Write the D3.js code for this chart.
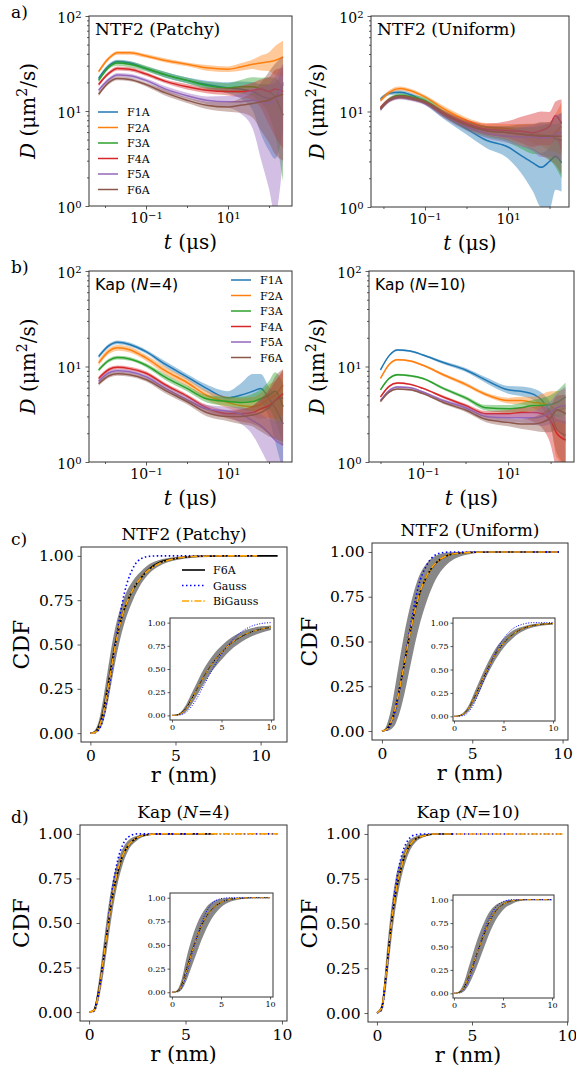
<!DOCTYPE html>
<html><head><meta charset="utf-8">
<script src="https://cdn.jsdelivr.net/npm/d3@7"></script>
<style>
body{margin:0;background:#fff}
svg{display:block}
text{font-family:"DejaVu Serif",serif;fill:#000}
</style>
</head><body><script>
const names = ["F1A","F2A","F3A","F4A","F5A","F6A"]
const colors = ["#1f77b4","#ff7f0e","#2ca02c","#d62728","#9467bd","#8c564b"]

// lag time grids (µs)
const tPatchy  = [0.007,0.0125,0.02,0.04,0.1,0.3,1,3,10,20,40,63,100,140,220]
const tUniform = [0.0085,0.014,0.025,0.045,0.1,0.3,1,3,10,20,40,63,100,140,195]
const tKap4    = [0.007,0.0125,0.02,0.04,0.1,0.3,1,3,10,20,40,63,100,140,220]
const tKap10   = [0.01,0.016,0.025,0.05,0.1,0.3,1,3,10,20,40,63,100,140,225]

// D (µm²/s), one row per F1A..F6A
const dPatchy = [
  [22,30,33,32,28,24,21,19,17.5,17,16,14.5,13.5,14,19],
  [26,36,41,41,38,34,31,28.5,27.5,29,31,32,33,34,37],
  [21,29,32,31,28,24,21,18.5,17.5,18,18,17,16,14,9],
  [19,25,28,27.5,24.5,20.5,18,16.5,16,16,16.5,17,16,17,16],
  [16.5,21.5,24,23.5,21,17,14.5,13,12.5,12.5,13,12.5,12,13,20],
  [15,20,22,21.5,19,15.5,13,11.5,11,11.5,12,12.5,13,14,15]]
// band widths below / above the mean, in decades
const loPatchy = [
  [.02,.02,.02,.02,.02,.03,.03,.04,.06,.1,.2,.4,.55,.65,.5],
  [.02,.02,.02,.02,.02,.02,.02,.03,.03,.04,.05,.08,.1,.15,.2],
  [.02,.02,.03,.03,.03,.03,.03,.04,.05,.07,.1,.15,.25,.4,.7],
  [.02,.02,.02,.02,.02,.02,.03,.03,.04,.06,.1,.2,.35,.5,.6],
  [.02,.02,.02,.02,.02,.03,.03,.04,.06,.12,.3,.6,.9,1.2,.8],
  [.02,.02,.02,.02,.02,.03,.03,.04,.05,.08,.15,.3,.45,.6,.7]]
const hiPatchy = [
  [.02,.02,.02,.02,.02,.03,.03,.04,.06,.08,.1,.12,.15,.15,.2],
  [.02,.02,.02,.02,.02,.02,.02,.03,.03,.04,.05,.08,.1,.15,.17],
  [.02,.02,.03,.03,.03,.03,.03,.04,.05,.07,.1,.12,.15,.2,.3],
  [.02,.02,.02,.02,.02,.02,.03,.03,.04,.06,.08,.1,.15,.2,.25],
  [.02,.02,.02,.02,.02,.03,.03,.04,.06,.08,.12,.15,.2,.25,.2],
  [.02,.02,.02,.02,.02,.03,.03,.04,.05,.07,.12,.2,.3,.35,.4]]

const dUniform = [
  [13.5,15.5,15.9,15,12.6,9,6.6,5,4.25,3.5,2.9,2.6,3.0,3.4,2.9],
  [13,16,17.4,16.5,14.2,10.5,8.1,6.9,6.6,6.3,5.9,5.7,5.5,6,7],
  [10.8,13.5,14.8,14.3,13,9.5,7.2,6.3,6,5.8,5.7,5.6,5.6,5.2,5],
  [11,13.3,14.2,13.8,12.5,9.5,7.5,6.5,6.3,6.2,6,6.3,7,9,7.5],
  [10.5,13,14,13.5,12.2,9,6.9,5.9,5.5,5.4,5.4,5.3,5.3,5.8,6],
  [10.6,13.2,14.2,13.7,12.4,9.2,7.2,6.3,6,5.8,5.6,5.5,5.5,5.5,5.5]]
const loUniform = [
  [.02,.02,.02,.02,.03,.04,.06,.08,.12,.18,.3,.42,.5,.35,.3],
  [.02,.02,.02,.02,.02,.03,.03,.04,.05,.07,.1,.12,.15,.2,.3],
  [.02,.02,.02,.02,.03,.04,.05,.07,.1,.15,.2,.2,.25,.3,.4],
  [.02,.02,.02,.02,.02,.03,.04,.05,.08,.12,.15,.15,.2,.25,.3],
  [.02,.02,.02,.02,.02,.03,.04,.05,.07,.1,.15,.2,.2,.25,.3],
  [.02,.02,.02,.02,.02,.03,.04,.05,.08,.12,.15,.2,.25,.3,.4]]
const hiUniform = [
  [.02,.02,.02,.02,.03,.04,.05,.06,.08,.1,.15,.15,.15,.2,.25],
  [.02,.02,.02,.02,.02,.03,.03,.04,.05,.07,.1,.12,.15,.2,.25],
  [.02,.02,.02,.02,.03,.03,.04,.05,.06,.07,.08,.1,.12,.15,.2],
  [.02,.02,.02,.02,.02,.03,.04,.06,.1,.15,.2,.2,.15,.15,.25],
  [.02,.02,.02,.02,.02,.03,.04,.05,.07,.1,.12,.15,.15,.2,.2],
  [.02,.02,.02,.02,.02,.03,.04,.05,.07,.1,.12,.15,.15,.2,.25]]

const dKap4 = [
  [12.7,16.5,17.9,17,14.3,10.5,7.8,5.9,4.7,5.0,5.5,5.9,4.6,3.7,2.5],
  [10.9,14.5,15.7,15,12.3,9,6.8,5,4.2,3.9,3.8,4.0,4.6,5.0,6.4],
  [9.2,11.6,12.4,12,10.3,7.7,5.9,4.6,4.3,4.2,4.3,4.6,5.0,5.5,3.8],
  [7.5,9.3,9.8,9.5,8.5,6.4,4.9,3.7,3.2,3.2,3.3,3.6,3.9,4.4,5.2],
  [7.0,8.6,9.0,8.8,7.8,5.9,4.5,3.6,3.4,3.2,2.7,2.4,2.0,1.7,1.5],
  [6.6,8.0,8.4,8.2,7.3,5.6,4.3,3.3,3.0,3.0,3.1,3.3,3.7,4.4,4.7]]
const loKap4 = [
  [.02,.02,.02,.02,.02,.03,.03,.04,.05,.07,.1,.15,.2,.35,.5],
  [.03,.03,.03,.03,.03,.04,.04,.05,.06,.08,.1,.15,.2,.25,.3],
  [.02,.02,.02,.02,.02,.03,.03,.04,.05,.07,.1,.12,.15,.3,.4],
  [.02,.02,.02,.02,.02,.02,.02,.03,.05,.08,.12,.2,.3,.4,.5],
  [.02,.02,.02,.02,.02,.03,.03,.04,.06,.1,.15,.25,.35,.45,.5],
  [.02,.02,.02,.02,.02,.03,.03,.04,.05,.08,.12,.2,.3,.4,.5]]
const hiKap4 = [
  [.02,.02,.02,.02,.02,.03,.03,.04,.07,.12,.18,.15,.12,.15,.2],
  [.03,.03,.03,.03,.03,.04,.04,.05,.06,.08,.1,.12,.15,.15,.15],
  [.02,.02,.02,.02,.02,.03,.03,.04,.05,.06,.08,.1,.15,.2,.25],
  [.02,.02,.02,.02,.02,.02,.02,.03,.04,.05,.07,.1,.15,.2,.25],
  [.02,.02,.02,.02,.02,.03,.03,.04,.05,.07,.1,.12,.15,.2,.25],
  [.02,.02,.02,.02,.02,.03,.03,.04,.05,.07,.1,.15,.2,.25,.3]]

const dKap10 = [
  [9.2,13,14.9,14.5,13.2,11,9.2,7.2,5.7,5.5,5.1,4.4,3.3,2.2,1.9],
  [7.5,10.5,11.8,11.4,10.3,8.2,6.5,5.1,4.4,4.4,4.2,4.1,3.9,3.5,3.7],
  [5.7,7.5,8.2,8.0,7.5,5.9,4.7,3.7,3.6,3.7,3.9,3.9,4.0,4.2,4.8],
  [4.8,6.2,6.7,6.5,5.9,4.8,3.9,3.2,3.2,3.3,3.3,3.2,2.7,2.0,1.7],
  [4.4,5.6,6.1,6.0,5.4,4.4,3.7,3.0,2.9,2.9,2.9,3.0,3.3,3.7,3.9],
  [4.3,5.4,5.8,5.7,5.2,4.2,3.5,2.8,2.6,2.5,2.5,2.6,2.9,3.5,3.2]]
const loKap10 = [
  [.01,.01,.01,.01,.01,.015,.02,.03,.04,.05,.06,.08,.15,.25,.3],
  [.01,.01,.01,.01,.01,.015,.02,.02,.03,.04,.06,.1,.2,.5,.6],
  [.01,.01,.01,.01,.01,.015,.02,.03,.04,.05,.06,.08,.1,.15,.2],
  [.01,.01,.01,.01,.01,.015,.02,.03,.04,.06,.1,.15,.25,.4,.5],
  [.01,.01,.01,.01,.01,.015,.02,.03,.04,.05,.07,.1,.12,.15,.2],
  [.01,.01,.01,.01,.01,.015,.02,.03,.04,.05,.07,.1,.15,.2,.3]]
const hiKap10 = [
  [.01,.01,.01,.01,.01,.015,.02,.03,.04,.05,.06,.08,.1,.15,.2],
  [.01,.01,.01,.01,.01,.015,.02,.02,.03,.04,.06,.1,.15,.2,.2],
  [.01,.01,.01,.01,.01,.015,.02,.03,.04,.05,.06,.08,.1,.12,.15],
  [.01,.01,.01,.01,.01,.015,.02,.03,.04,.05,.06,.08,.1,.15,.2],
  [.01,.01,.01,.01,.01,.015,.02,.03,.04,.05,.07,.1,.12,.15,.2],
  [.01,.01,.01,.01,.01,.015,.02,.03,.04,.05,.07,.1,.12,.15,.2]]

const dTicks = [1,10,100]
const dMinor = [2,3,4,5,6,7,8,9,20,30,40,50,60,70,80,90]
const tTicks = [0.1,10]
const tMinor = [0.01,1,100]

// CDF of r (nm)
const cdfTicks = [0,0.25,0.5,0.75,1]
const rTicks = [0,5,10]
const rInset = [0,0.5,1,1.5,2,2.5,3,3.5,4,5,6,7,8,9,10]

const rPatchyF6A   = [0,0.25,0.5,0.75,1,1.25,1.5,1.75,2,2.5,3,3.5,4,5,6,8,11]
const cdfPatchyF6A = [0,0.005,0.04,0.12,0.25,0.39,0.52,0.62,0.70,0.81,0.88,0.93,0.96,0.985,0.996,1,1]
const cdfPatchyLo  = [0,0,0.015,0.06,0.16,0.29,0.42,0.53,0.62,0.75,0.845,0.905,0.94,0.975,0.99,1,1]
const cdfPatchyHi  = [0,0.015,0.07,0.19,0.34,0.49,0.61,0.7,0.77,0.86,0.915,0.955,0.975,0.993,1,1,1]
const rPatchyFit   = [0,0.25,0.5,0.75,1,1.25,1.5,1.75,2,2.5,3,3.5,4,5,6,8,9.8]
const cdfPatchyGauss   = [0,0.002,0.02,0.08,0.2,0.35,0.52,0.67,0.79,0.93,0.985,0.998,1,1,1,1,1]
const cdfPatchyBiGauss = [0,0.004,0.035,0.11,0.24,0.38,0.51,0.62,0.70,0.81,0.88,0.925,0.955,0.985,0.996,1,1]
const insPatchyF6A     = [0,0.005,0.03,0.09,0.18,0.28,0.38,0.47,0.55,0.68,0.78,0.85,0.9,0.93,0.95]
const insPatchyLo      = [0,0,0.01,0.05,0.12,0.21,0.3,0.39,0.47,0.6,0.71,0.79,0.85,0.89,0.92]
const insPatchyHi      = [0,0.01,0.05,0.13,0.24,0.35,0.46,0.55,0.63,0.75,0.84,0.9,0.94,0.96,0.97]
const insPatchyGauss   = [0,0.002,0.01,0.04,0.1,0.18,0.28,0.38,0.48,0.66,0.8,0.9,0.96,0.99,1]
const insPatchyBiGauss = [0,0.004,0.025,0.085,0.175,0.28,0.38,0.47,0.55,0.68,0.78,0.855,0.9,0.93,0.95]

const rUniformF6A   = [0,0.25,0.5,0.75,1,1.25,1.5,1.75,2,2.5,3,3.5,4,5,6,8,9.8]
const cdfUniformF6A = [0,0.01,0.05,0.13,0.25,0.38,0.52,0.64,0.74,0.87,0.94,0.975,0.99,0.998,1,1,1]
const cdfUniformLo  = [0,0,0.01,0.04,0.11,0.21,0.33,0.45,0.56,0.73,0.85,0.92,0.96,0.99,1,1,1]
const cdfUniformHi  = [0,0.03,0.12,0.26,0.41,0.55,0.67,0.77,0.85,0.94,0.98,0.995,1,1,1,1,1]
const rUniformFit   = [0,0.25,0.5,0.75,1,1.25,1.5,1.75,2,2.5,3,3.5,4,5,6,8,9.8]
const cdfUniformGauss   = [0,0.005,0.04,0.12,0.25,0.39,0.54,0.68,0.8,0.93,0.985,0.998,1,1,1,1,1]
const cdfUniformBiGauss = [0,0.008,0.05,0.13,0.25,0.38,0.52,0.64,0.74,0.87,0.94,0.975,0.99,0.998,1,1,1]
const insUniformF6A     = [0,0.005,0.03,0.09,0.19,0.3,0.42,0.53,0.63,0.78,0.88,0.94,0.97,0.985,0.99]
const insUniformLo      = [0,0,0.015,0.06,0.14,0.24,0.36,0.47,0.57,0.73,0.84,0.91,0.95,0.97,0.98]
const insUniformHi      = [0,0.01,0.045,0.12,0.24,0.36,0.48,0.59,0.69,0.83,0.92,0.96,0.985,0.995,1]
const insUniformGauss   = [0,0.002,0.01,0.05,0.13,0.25,0.38,0.51,0.64,0.83,0.94,0.985,1,1,1]
const insUniformBiGauss = [0,0.005,0.03,0.09,0.19,0.3,0.42,0.53,0.63,0.78,0.88,0.94,0.97,0.985,0.99]

const rKap4F6A   = [0,0.25,0.5,0.75,1,1.25,1.5,1.75,2,2.5,3,3.5,4,5,6.5]
const cdfKap4F6A = [0,0.01,0.12,0.3,0.5,0.67,0.79,0.88,0.93,0.98,0.995,1,1,1,1]
const cdfKap4Lo  = [0,0,0.07,0.22,0.41,0.59,0.73,0.83,0.9,0.965,0.99,1,1,1,1]
const cdfKap4Hi  = [0,0.02,0.17,0.38,0.59,0.75,0.85,0.92,0.96,0.99,1,1,1,1,1]
const rKap4Fit   = [0,0.25,0.5,0.75,1,1.25,1.5,1.75,2,2.5,3,3.5,4,5,6,8,9.8]
const cdfKap4Gauss   = [0,0.005,0.1,0.3,0.52,0.72,0.86,0.94,0.98,1,1,1,1,1,1,1,1]
const cdfKap4BiGauss = [0,0.01,0.11,0.3,0.5,0.67,0.8,0.88,0.93,0.98,0.995,1,1,1,1,1,1]
const insKap4F6A     = [0,0.01,0.08,0.25,0.42,0.57,0.7,0.8,0.87,0.95,0.985,0.995,1,1,1]
const insKap4Lo      = [0,0,0.03,0.13,0.27,0.41,0.55,0.67,0.77,0.9,0.96,0.985,0.995,1,1]
const insKap4Hi      = [0,0.02,0.14,0.37,0.56,0.71,0.82,0.9,0.95,0.99,1,1,1,1,1]
const insKap4Gauss   = [0,0.005,0.05,0.2,0.39,0.57,0.73,0.85,0.93,0.99,1,1,1,1,1]
const insKap4BiGauss = [0,0.01,0.075,0.24,0.41,0.57,0.7,0.8,0.87,0.95,0.985,0.995,1,1,1]

const rKap10F6A   = [0,0.25,0.5,0.75,1,1.25,1.5,1.75,2,2.5,3,4]
const cdfKap10F6A = [0,0.03,0.24,0.49,0.68,0.8,0.89,0.94,0.97,0.99,1,1]
const cdfKap10Lo  = [0,0.01,0.16,0.4,0.6,0.74,0.84,0.91,0.95,0.985,1,1]
const cdfKap10Hi  = [0,0.05,0.32,0.58,0.76,0.86,0.93,0.97,0.985,1,1,1]
const rKap10Fit   = [0,0.25,0.5,0.75,1,1.25,1.5,1.75,2,2.5,3,4,5,6,8,9.8]
const cdfKap10Gauss   = [0,0.02,0.22,0.5,0.72,0.86,0.94,0.98,0.995,1,1,1,1,1,1,1]
const cdfKap10BiGauss = [0,0.03,0.24,0.49,0.68,0.8,0.89,0.94,0.97,0.99,1,1,1,1,1,1]
const insKap10F6A     = [0,0.01,0.06,0.18,0.32,0.47,0.61,0.74,0.84,0.95,0.99,1,1,1,1]
const insKap10Lo      = [0,0,0.02,0.09,0.2,0.33,0.47,0.61,0.73,0.89,0.96,0.99,1,1,1]
const insKap10Hi      = [0,0.02,0.11,0.28,0.45,0.61,0.74,0.85,0.92,0.98,1,1,1,1,1]
const insKap10Gauss   = [0,0.005,0.04,0.14,0.3,0.47,0.64,0.78,0.88,0.98,1,1,1,1,1]
const insKap10BiGauss = [0,0.01,0.06,0.18,0.32,0.47,0.61,0.74,0.84,0.95,0.99,1,1,1,1]

const svg = d3.select("body").append("svg").attr("width",576).attr("height",1074)
let clipN = 0
const ink = "#333"

function clip(x0,y0,x1,y1){
  const id = "c"+(clipN++)
  svg.append("clipPath").attr("id",id).append("rect")
    .attr("x",x0).attr("y",y0).attr("width",x1-x0).attr("height",y1-y0)
  return svg.append("g").attr("clip-path",`url(#${id})`)
}

function axis(gen, tx, ty, fs){
  const a = svg.append("g").attr("transform",`translate(${tx},${ty})`).call(gen)
  a.attr("font-family",null).attr("font-size",null)
  a.select(".domain").remove()
  a.selectAll(".tick line").attr("stroke",ink).attr("stroke-width",0.8)
  a.selectAll(".tick text").style("font-size",fs+"px").attr("fill","#000")
  return a
}

function frame(x0,y0,x1,y1){
  svg.append("rect").attr("x",x0).attr("y",y0).attr("width",x1-x0).attr("height",y1-y0)
    .attr("fill","none").attr("stroke",ink).attr("stroke-width",1)
}

function sup(sel){
  sel.each(function(d){
    const e = Math.round(Math.log10(d))
    const t = d3.select(this).text("10")
    t.append("tspan").attr("dy","-0.45em").style("font-size","10px").text(e<0 ? "\u2212"+(-e) : e)
  })
}

function drawD(o){
  const x = d3.scaleLog().domain(o.tdom).range([o.x0,o.x1])
  const y = d3.scaleLog().domain([1,100]).range([o.y1,o.y0])
  const g = clip(o.x0,o.y0,o.x1,o.y1)
  o.d.forEach((s,i)=>{
    const pts = o.t.map((t,j)=>({t, v:s[j], lo:s[j]/Math.pow(10,o.lo[i][j]), hi:s[j]*Math.pow(10,o.hi[i][j])}))
    g.append("path").datum(pts)
      .attr("d", d3.area().x(p=>x(p.t)).y0(p=>y(Math.max(p.lo,0.05))).y1(p=>y(p.hi)).curve(d3.curveMonotoneX))
      .attr("fill",colors[i]).attr("fill-opacity",0.42)
    g.append("path").datum(pts)
      .attr("d", d3.line().x(p=>x(p.t)).y(p=>y(p.v)).curve(d3.curveMonotoneX))
      .attr("fill","none").attr("stroke",colors[i]).attr("stroke-width",1.5)
  })
  axis(d3.axisBottom(x).tickValues(tMinor).tickSize(2).tickFormat(""),0,o.y1,14)
  axis(d3.axisLeft(y).tickValues(dMinor).tickSize(2).tickFormat(""),o.x0,0,14)
  const bx = axis(d3.axisBottom(x).tickValues(tTicks).tickSize(3.5).tickPadding(4),0,o.y1,14)
  sup(bx.selectAll(".tick text"))
  const ly = axis(d3.axisLeft(y).tickValues(dTicks).tickSize(3.5).tickPadding(4),o.x0,0,14)
  sup(ly.selectAll(".tick text"))
  ly.selectAll(".tick text").attr("dy","0.45em")
  frame(o.x0,o.y0,o.x1,o.y1)

  const yl = svg.append("text").attr("transform",`translate(${o.ylx},${(o.y0+o.y1)/2}) rotate(-90)`)
    .attr("text-anchor","middle").style("font-size","20px")
  yl.append("tspan").style("font-style","italic").text("D")
  yl.append("tspan").text(" (\u03bcm")
  yl.append("tspan").attr("dy",-8).style("font-size","14px").text("2")
  yl.append("tspan").attr("dy",8).text("/s)")
  const xl = svg.append("text").attr("x",(o.x0+o.x1)/2).attr("y",o.y1+43)
    .attr("text-anchor","middle").style("font-size","20px")
  xl.append("tspan").style("font-style","italic").text("t")
  xl.append("tspan").text(" (\u03bcs)")

  const tt = svg.append("text").attr("x",o.x0+6).attr("y",o.y0+19).style("font-size",o.tfs+"px")
    .style("font-family",o.sans ? "'DejaVu Sans',sans-serif" : null)
  o.title.forEach(p=>tt.append("tspan").style("font-style",p[1]?"italic":null).text(p[0]))

  if(o.leg){
    names.forEach((n,i)=>{
      const ry = o.leg.y + i*15.5
      svg.append("line").attr("x1",o.leg.x).attr("x2",o.leg.x+20).attr("y1",ry).attr("y2",ry)
        .attr("stroke",colors[i]).attr("stroke-width",1.5)
      svg.append("text").attr("x",o.leg.x+29).attr("y",ry+4).style("font-size","11px").text(n)
    })
  }
}

function cdfLines(g,x,y,o,sw){
  const pts = (r,v)=>r.map((rr,j)=>[rr,v[j]])
  g.append("path").datum(o.r.map((rr,j)=>[rr,o.lo[j],o.hi[j]]))
    .attr("d", d3.area().x(p=>x(p[0])).y0(p=>y(p[1])).y1(p=>y(p[2])).curve(d3.curveMonotoneX))
    .attr("fill","#7a7a7a").attr("fill-opacity",0.9)
  const ln = d3.line().x(p=>x(p[0])).y(p=>y(p[1])).curve(d3.curveMonotoneX)
  g.append("path").datum(pts(o.r,o.f6a)).attr("d",ln).attr("fill","none").attr("stroke","#000").attr("stroke-width",sw)
  g.append("path").datum(pts(o.rf,o.gauss)).attr("d",ln).attr("fill","none").attr("stroke","blue")
    .attr("stroke-width",sw).attr("stroke-dasharray",sw>1.2?"1.5,2.5":"1,1.6")
  g.append("path").datum(pts(o.rf,o.bi)).attr("d",ln).attr("fill","none").attr("stroke","orange")
    .attr("stroke-width",sw).attr("stroke-dasharray",sw>1.2?"7,2,1.4,2":"4.5,1.3,1,1.3")
}

function drawCDF(o){
  const x = d3.scaleLinear().domain(o.xdom).range([o.x0,o.x1])
  const y = d3.scaleLinear().domain([-0.05,1.05]).range([o.y1,o.y0])
  cdfLines(svg.append("g"),x,y,o,1.6)
  axis(d3.axisBottom(x).tickValues(rTicks).tickSize(3.5).tickPadding(4),0,o.y1,15.5)
  axis(d3.axisLeft(y).tickValues(cdfTicks).tickSize(3.5).tickPadding(4).tickFormat(d3.format(".2f")),o.x0,0,15.5)
  frame(o.x0,o.y0,o.x1,o.y1)
  svg.append("text").attr("transform",`translate(${o.ylx},${(o.y0+o.y1)/2}) rotate(-90)`)
    .attr("text-anchor","middle").style("font-size","22px").text("CDF")
  svg.append("text").attr("x",(o.x0+o.x1)/2).attr("y",o.y1+40).attr("text-anchor","middle")
    .style("font-size","21px").text("r (nm)")
  const tt = svg.append("text").attr("x",(o.x0+o.x1)/2).attr("y",o.y0-7).attr("text-anchor","middle").style("font-size","17px")
  o.title.forEach(p=>tt.append("tspan").style("font-style",p[1]?"italic":null).text(p[0]))

  const n = o.ins
  const xi = d3.scaleLinear().domain(n.xdom).range([n.x0,n.x1])
  const yi = d3.scaleLinear().domain([-0.05,1.05]).range([n.y1,n.y0])
  svg.append("rect").attr("x",n.x0).attr("y",n.y0).attr("width",n.x1-n.x0).attr("height",n.y1-n.y0).attr("fill","#fff")
  cdfLines(clip(n.x0,n.y0,n.x1,n.y1),xi,yi,{r:rInset,f6a:n.f6a,lo:n.lo,hi:n.hi,rf:rInset,gauss:n.gauss,bi:n.bi},1)
  axis(d3.axisBottom(xi).tickValues(rTicks).tickSize(2.5).tickPadding(2),0,n.y1,8)
  axis(d3.axisLeft(yi).tickValues(cdfTicks).tickSize(2.5).tickPadding(2).tickFormat(d3.format(".2f")),n.x0,0,8)
  frame(n.x0,n.y0,n.x1,n.y1)
}

// panels a), b)
drawD({t:tPatchy,d:dPatchy,lo:loPatchy,hi:hiPatchy,tdom:[Math.pow(10,-2.39),Math.pow(10,2.56)],
  x0:89,x1:292,y0:16,y1:206,ylx:35,title:[["NTF2 (Patchy)"]],tfs:17,leg:{x:98,y:112}})
drawD({t:tUniform,d:dUniform,lo:loUniform,hi:hiUniform,tdom:[Math.pow(10,-2.3),Math.pow(10,2.47)],
  x0:371,x1:569,y0:16,y1:207,ylx:324,title:[["NTF2 (Uniform)"]],tfs:17})
drawD({t:tKap4,d:dKap4,lo:loKap4,hi:hiKap4,tdom:[Math.pow(10,-2.39),Math.pow(10,2.56)],
  x0:89,x1:292,y0:271,y1:462,ylx:35,title:[["Kap ("],["N",1],["=4)"]],tfs:16,sans:1,leg:{x:231,y:280}})
drawD({t:tKap10,d:dKap10,lo:loKap10,hi:hiKap10,tdom:[Math.pow(10,-2.27),Math.pow(10,2.55)],
  x0:369,x1:574,y0:271,y1:462,ylx:324,title:[["Kap ("],["N",1],["=10)"]],tfs:15.5,sans:1})

// panels c), d)
drawCDF({r:rPatchyF6A,f6a:cdfPatchyF6A,lo:cdfPatchyLo,hi:cdfPatchyHi,rf:rPatchyFit,gauss:cdfPatchyGauss,bi:cdfPatchyBiGauss,
  xdom:[-0.55,11.55],x0:81,x1:287,y0:547,y1:742,ylx:29,title:[["NTF2 (Patchy)"]],
  ins:{f6a:insPatchyF6A,lo:insPatchyLo,hi:insPatchyHi,gauss:insPatchyGauss,bi:insPatchyBiGauss,xdom:[-0.2,10.3],x0:170,x1:274,y0:618,y1:720}})
drawCDF({r:rUniformF6A,f6a:cdfUniformF6A,lo:cdfUniformLo,hi:cdfUniformHi,rf:rUniformFit,gauss:cdfUniformGauss,bi:cdfUniformBiGauss,
  xdom:[-0.55,10.3],x0:372,x1:568,y0:543,y1:740,ylx:317,title:[["NTF2 (Uniform)"]],
  ins:{f6a:insUniformF6A,lo:insUniformLo,hi:insUniformHi,gauss:insUniformGauss,bi:insUniformBiGauss,xdom:[-0.1,10.2],x0:453,x1:555,y0:618,y1:721}})
drawCDF({r:rKap4F6A,f6a:cdfKap4F6A,lo:cdfKap4Lo,hi:cdfKap4Hi,rf:rKap4Fit,gauss:cdfKap4Gauss,bi:cdfKap4BiGauss,
  xdom:[-0.47,10.26],x0:80,x1:287,y0:825,y1:1021,ylx:29,title:[["Kap ("],["N",1],["=4)"]],
  ins:{f6a:insKap4F6A,lo:insKap4Lo,hi:insKap4Hi,gauss:insKap4Gauss,bi:insKap4BiGauss,xdom:[-0.2,10.3],x0:170,x1:273,y0:893,y1:997}})
drawCDF({r:rKap10F6A,f6a:cdfKap10F6A,lo:cdfKap10Lo,hi:cdfKap10Hi,rf:rKap10Fit,gauss:cdfKap10Gauss,bi:cdfKap10BiGauss,
  xdom:[-0.47,10.05],x0:368,x1:568,y0:825,y1:1022,ylx:317,title:[["Kap ("],["N",1],["=10)"]],
  ins:{f6a:insKap10F6A,lo:insKap10Lo,hi:insKap10Hi,gauss:insKap10Gauss,bi:insKap10BiGauss,xdom:[-0.1,10.2],x0:453,x1:554,y0:895,y1:998}})

// legend of c)
const legItems = [["F6A","#000",null],["Gauss","blue","1.5,2.5"],["BiGauss","orange","7,2,1.4,2"]]
legItems.forEach((it,i)=>{
  const ry = 570 + i*15.5
  svg.append("line").attr("x1",182).attr("x2",205).attr("y1",ry).attr("y2",ry)
    .attr("stroke",it[1]).attr("stroke-width",1.6).attr("stroke-dasharray",it[2])
  svg.append("text").attr("x",213).attr("y",ry+4).style("font-size","11px").text(it[0])
})

// panel letters
;[["a)",18],["b)",273],["c)",545],["d)",823]].forEach(p=>{
  svg.append("text").attr("x",11).attr("y",p[1]).style("font-size","17px").text(p[0])
})
</script></body></html>
